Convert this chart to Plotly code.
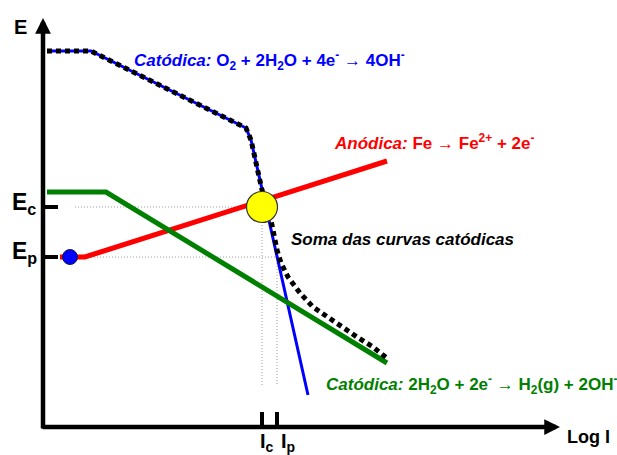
import plotly.graph_objects as go

# Schematic Evans diagram: potential E versus log I (arbitrary units)
FONT = "Arial, 'Liberation Sans', sans-serif"

# Cathodic O2 reduction branch
logI_o2 = [3, 47, 202, 207, 264]
E_o2 = [376, 376, 299, 287, 32]

# Cathodic H2 evolution branch
logI_h2 = [3, 62, 343]
E_h2 = [235, 235, 64]

# Anodic Fe dissolution branch
logI_fe = [16, 41, 343]
E_fe = [170, 170, 266]

# Sum of the cathodic curves
logI_sum = [3, 47, 202, 207, 218, 228, 233, 237, 244, 256, 269, 283, 296, 313, 329, 344]
E_sum = [376, 376, 299, 287, 237, 202, 177, 164, 150, 134, 120, 110, 102, 90, 80, 68]

# Characteristic points
E_c, I_c = 220, 218   # corrosion (sum of cathodic curves meets anodic)
E_p, I_p = 170, 233   # protection potential / current
E_start = 26          # start of the anodic branch

# Axis extents
X_END = 516
Y_END = 409

fig = go.Figure()

def line(x, y, color, width, dash="solid"):
    fig.add_trace(go.Scatter(x=x, y=y, mode="lines", hoverinfo="skip",
                             showlegend=False,
                             line=dict(color=color, width=width, dash=dash)))

# guide lines
gray = "#a0a0a0"
line([31, I_c], [E_c, E_c], gray, 1, "1px,2px")
line([41, I_p], [E_p, E_p], gray, 1, "1px,2px")
line([I_c, I_c], [E_c, 42], gray, 1, "1px,2px")
line([I_p, I_p], [E_p, 42], gray, 1, "1px,2px")

# polarisation curves
line(logI_fe, E_fe, "#ff0000", 5)
line(logI_o2, E_o2, "#0000ff", 3)
line(logI_h2, E_h2, "#008000", 5)
line(logI_sum, E_sum, "#000000", 5, "5px,4px")

# markers
fig.add_trace(go.Scatter(x=[E_start], y=[E_p], mode="markers", hoverinfo="skip",
                         showlegend=False,
                         marker=dict(size=15, color="#0000ff",
                                     line=dict(color="#1a1a40", width=1))))
fig.add_trace(go.Scatter(x=[I_c], y=[E_c], mode="markers", hoverinfo="skip",
                         showlegend=False,
                         marker=dict(size=31, color="#ffff00",
                                     line=dict(color="#333333", width=1.2))))

# axis ticks for Ec, Ep, Ic, Ip
line([0, 14], [E_c, E_c], "#000000", 4)
line([0, 14], [E_p, E_p], "#000000", 4)
line([I_c, I_c], [0, 15], "#000000", 4)
line([I_p, I_p], [0, 15], "#000000", 4)

annotations = []
# axes with arrowheads
annotations.append(dict(x=X_END, y=0, ax=-3, ay=0, xref="x", yref="y",
                        axref="x", ayref="y", text="", showarrow=True,
                        arrowhead=2, arrowsize=0.7, arrowwidth=4.5,
                        arrowcolor="#000000"))
annotations.append(dict(x=-1, y=Y_END, ax=-1, ay=-3, xref="x", yref="y",
                        axref="x", ayref="y", text="", showarrow=True,
                        arrowhead=2, arrowsize=0.7, arrowwidth=4.5,
                        arrowcolor="#000000"))

def label(x, y, text, size, color="#000000", xanchor="left", yanchor="middle"):
    annotations.append(dict(x=x, y=y, xref="x", yref="y", text=text,
                            showarrow=False, xanchor=xanchor, yanchor=yanchor,
                            font=dict(family=FONT, size=size, color=color)))

label(-24, 400, "<b>E</b>", 20, xanchor="center")
label(-34, 224, "<b>E<sub>c</sub></b>", 23)
label(-34, 175, "<b>E<sub>p</sub></b>", 23)
label(214, -1, "<b>I<sub>c</sub></b>", 20, yanchor="top")
label(235, -1, "<b>I<sub>p</sub></b>", 20, yanchor="top")
label(521, -10, "<b>Log I</b>", 18)

label(88, 367, "<b><i>Catódica:</i> O<sub>2</sub> + 2H<sub>2</sub>O + 4e<sup>-</sup> → 4OH<sup>-</sup></b>",
      17, "#0000ff")
label(288, 285, "<b><i>Anódica:</i> Fe → Fe<sup>2+</sup> + 2e<sup>-</sup></b>", 17, "#ff0000")
label(245, 188, "<b><i>Soma das curvas catódicas</i></b>", 17)
label(280, 43, "<b><i>Catódica:</i> 2H<sub>2</sub>O + 2e<sup>-</sup> → H<sub>2</sub>(g) + 2OH<sup>-</sup></b>",
      17, "#008000")

fig.update_layout(
    width=617, height=455, autosize=False,
    margin=dict(l=0, r=0, t=0, b=0),
    paper_bgcolor="white", plot_bgcolor="white",
    xaxis=dict(visible=False, range=[-44, 573], fixedrange=True),
    yaxis=dict(visible=False, range=[-28, 427], fixedrange=True),
    annotations=annotations,
)

fig.write_html("out.html")
